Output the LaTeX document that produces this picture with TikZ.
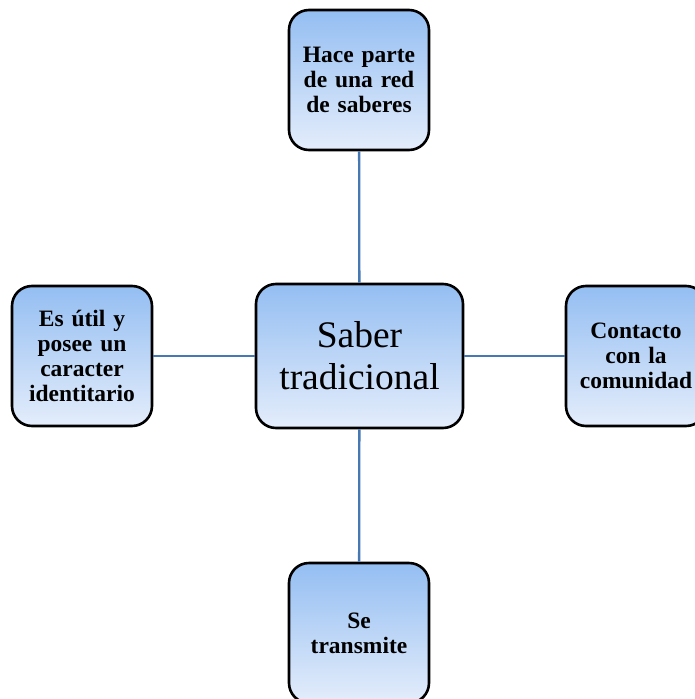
\documentclass[tikz,border=0pt]{standalone}
\usepackage{fontspec}
\setmainfont{Liberation Serif}
\definecolor{topblue}{RGB}{148,190,242}
\definecolor{botblue}{RGB}{228,237,251}
\definecolor{linkblue}{RGB}{70,120,180}
\begin{document}
\begin{tikzpicture}[x=1pt,y=-1pt,
  box/.style={draw=black, line width=2.6pt, rounded corners=20pt,
    top color=topblue, bottom color=botblue, minimum width=140pt, minimum height=140pt,
    align=center, inner sep=0pt, text width=136pt,
    font=\fontsize{23.5}{25}\selectfont\bfseries},
  bigbox/.style={box, minimum width=207pt, minimum height=144pt, text width=200pt,
    font=\fontsize{37.5}{42}\selectfont},
  link/.style={draw=linkblue, line width=2.3pt}]
\useasboundingbox (0,0) rectangle (695,699);
\node[bigbox] (c) at (359.5,356) {Saber\\tradicional};
\node[box] (t) at (359,80) {Hace parte\\de una red\\de saberes};
\node[box] (l) at (82,356) {Es útil y\\posee un\\caracter\\identitario};
\node[box] (r) at (636,356) {Contacto\\con la\\comunidad};
\node[box] (b) at (359,633) {Se\\transmite};
\draw[link] (c) -- (t);
\draw[link] (c) -- (l);
\draw[link] (c) -- (r);
\draw[link] (c) -- (b);
\end{tikzpicture}
\end{document}
